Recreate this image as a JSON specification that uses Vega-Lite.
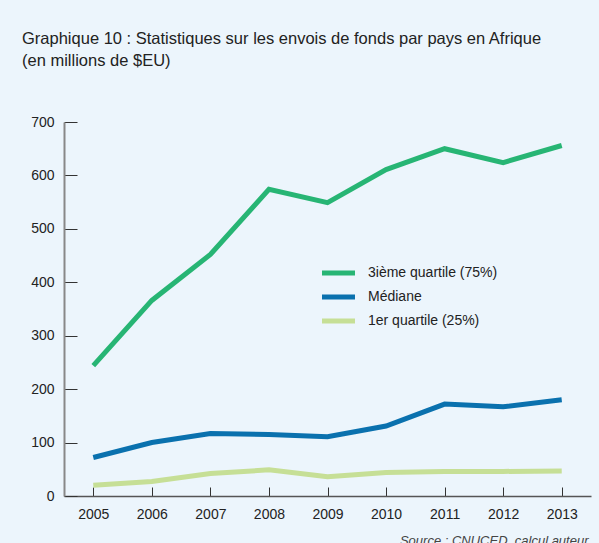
{
  "$schema": "https://vega.github.io/schema/vega-lite/v6.json",
  "autosize": {"type": "none"},
  "padding": {"left": 64, "top": 122, "right": 8, "bottom": 47},
  "width": 527,
  "height": 374,
  "background": "#ecf5fc",
  "title": {
    "text": ["Graphique 10 : Statistiques sur les envois de fonds par pays en Afrique", "(en millions de $EU)"],
    "anchor": "start",
    "frame": "group",
    "dx": -42,
    "offset": 46,
    "lineHeight": 22,
    "font": "Liberation Sans",
    "fontSize": 16.5,
    "fontWeight": "normal",
    "color": "#222222"
  },
  "data": {
    "values": [
      {"annee": "2005", "serie": "3ième quartile (75%)", "valeur": 244},
      {"annee": "2006", "serie": "3ième quartile (75%)", "valeur": 366},
      {"annee": "2007", "serie": "3ième quartile (75%)", "valeur": 452},
      {"annee": "2008", "serie": "3ième quartile (75%)", "valeur": 574},
      {"annee": "2009", "serie": "3ième quartile (75%)", "valeur": 549},
      {"annee": "2010", "serie": "3ième quartile (75%)", "valeur": 611},
      {"annee": "2011", "serie": "3ième quartile (75%)", "valeur": 650},
      {"annee": "2012", "serie": "3ième quartile (75%)", "valeur": 624},
      {"annee": "2013", "serie": "3ième quartile (75%)", "valeur": 656},
      {"annee": "2005", "serie": "Médiane", "valeur": 72},
      {"annee": "2006", "serie": "Médiane", "valeur": 100},
      {"annee": "2007", "serie": "Médiane", "valeur": 117},
      {"annee": "2008", "serie": "Médiane", "valeur": 115},
      {"annee": "2009", "serie": "Médiane", "valeur": 111},
      {"annee": "2010", "serie": "Médiane", "valeur": 131},
      {"annee": "2011", "serie": "Médiane", "valeur": 172},
      {"annee": "2012", "serie": "Médiane", "valeur": 167},
      {"annee": "2013", "serie": "Médiane", "valeur": 180},
      {"annee": "2005", "serie": "1er quartile (25%)", "valeur": 20},
      {"annee": "2006", "serie": "1er quartile (25%)", "valeur": 27},
      {"annee": "2007", "serie": "1er quartile (25%)", "valeur": 42},
      {"annee": "2008", "serie": "1er quartile (25%)", "valeur": 49},
      {"annee": "2009", "serie": "1er quartile (25%)", "valeur": 36},
      {"annee": "2010", "serie": "1er quartile (25%)", "valeur": 44},
      {"annee": "2011", "serie": "1er quartile (25%)", "valeur": 46},
      {"annee": "2012", "serie": "1er quartile (25%)", "valeur": 46},
      {"annee": "2013", "serie": "1er quartile (25%)", "valeur": 47}
    ]
  },
  "mark": {"type": "line", "strokeWidth": 5, "strokeJoin": "miter"},
  "encoding": {
    "x": {
      "field": "annee",
      "type": "ordinal",
      "scale": {"type": "point", "padding": 0.5},
      "axis": {
        "title": "Source : CNUCED, calcul auteur",
        "titleFont": "Liberation Sans",
        "titleFontSize": 13,
        "titleFontStyle": "italic",
        "titleFontWeight": "normal",
        "titleColor": "#444444",
        "titleAlign": "right",
        "titleAnchor": "end",
        "titleBaseline": "alphabetic",
        "titleX": 524,
        "titleY": 48,
        "labelAngle": 0,
        "labelFont": "Liberation Sans",
        "labelFontSize": 14,
        "labelColor": "#222222",
        "labelPadding": 20,
        "tickSize": -9,
        "tickColor": "#333333",
        "tickWidth": 1,
        "domainColor": "#555555",
        "domainWidth": 1.5,
        "grid": false
      }
    },
    "y": {
      "field": "valeur",
      "type": "quantitative",
      "scale": {"domain": [0, 700], "nice": false},
      "axis": {
        "title": null,
        "values": [0, 100, 200, 300, 400, 500, 600, 700],
        "labelFont": "Liberation Sans",
        "labelFontSize": 14,
        "labelColor": "#222222",
        "labelPadding": 23,
        "tickSize": -13,
        "tickColor": "#333333",
        "tickWidth": 1,
        "domainColor": "#888888",
        "domainWidth": 2,
        "grid": false
      }
    },
    "color": {
      "field": "serie",
      "type": "nominal",
      "scale": {
        "domain": ["3ième quartile (75%)", "Médiane", "1er quartile (25%)"],
        "range": ["#27b574", "#0a71ae", "#c6df96"]
      },
      "legend": {
        "title": null,
        "orient": "none",
        "legendX": 263.5,
        "legendY": 140,
        "symbolType": "M-2,0H2",
        "symbolSize": 272,
        "symbolStrokeWidth": 5,
        "labelFont": "Liberation Sans",
        "labelFontSize": 14,
        "labelColor": "#222222",
        "labelOffset": 18.5,
        "rowPadding": 3,
        "padding": 0
      }
    }
  },
  "config": {"view": {"stroke": null}}
}
